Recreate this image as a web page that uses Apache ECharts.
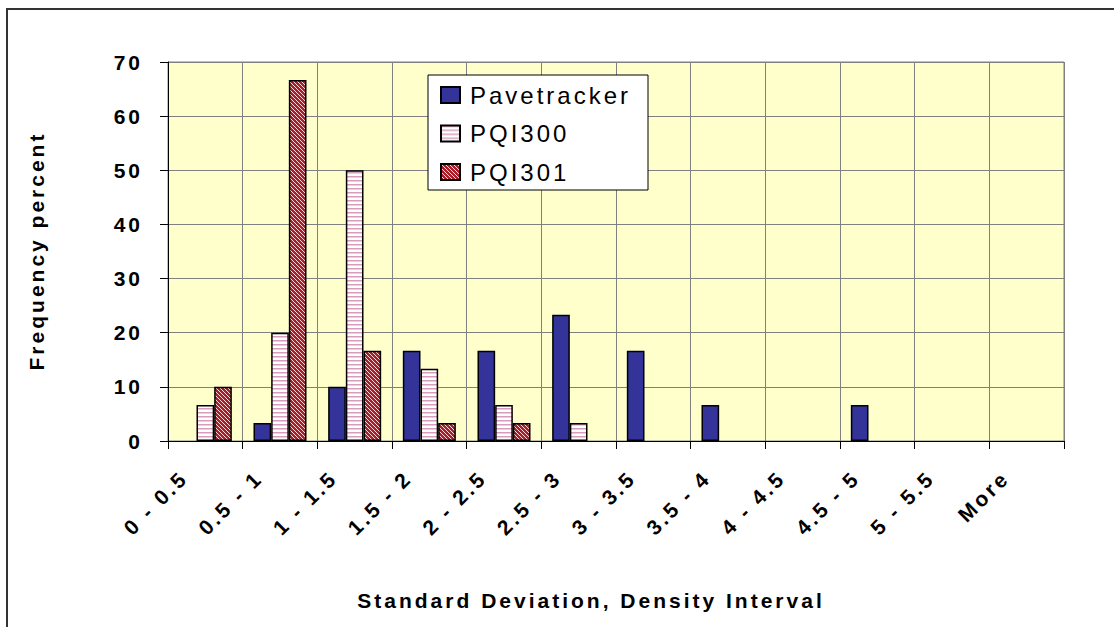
<!DOCTYPE html>
<html>
<head>
<meta charset="utf-8">
<script src="https://cdn.jsdelivr.net/npm/echarts@6/dist/echarts.min.js"></script>
<style>
  html, body { margin: 0; padding: 0; background: #fff; }
  #main { width: 1114px; height: 627px; }
  #main svg text { letter-spacing: 3px; }
</style>
</head>
<body>
<div id="main"></div>
<script>
// 数据
const categories = ['0 - 0.5', '0.5 - 1', '1 - 1.5', '1.5 - 2', '2 - 2.5', '2.5 - 3', '3 - 3.5', '3.5 - 4', '4 - 4.5', '4.5 - 5', '5 - 5.5', 'More'];
const pavetracker = [0, 3.33, 10, 16.67, 16.67, 23.33, 16.67, 6.67, 0, 6.67, 0, 0];
const pqi300 = [6.67, 20, 50, 13.33, 6.67, 3.33, 0, 0, 0, 0, 0, 0];
const pqi301 = [10, 66.67, 16.67, 3.33, 3.33, 0, 0, 0, 0, 0, 0, 0];
const yTicks = [0, 10, 20, 30, 40, 50, 60, 70];

const FONT = 'Liberation Sans, Arial, sans-serif';

//填充图案
const makePattern = (w, h, draw) => {
  const c = document.createElement('canvas');
  c.width = w; c.height = h;
  draw(c.getContext('2d'));
  return { image: c, repeat: 'repeat', imageWidth: w, imageHeight: h };
}

const stripes = makePattern(4, 4, ctx => {
  ctx.fillStyle = '#fff'; ctx.fillRect(0, 0, 4, 4);
  ctx.fillStyle = '#d59dbb'; ctx.fillRect(0, 0, 4, 1);
  ctx.fillStyle = '#ebcfdf'; ctx.fillRect(0, 1, 4, 1);
});

const hatch = makePattern(4, 4, ctx => {
  ctx.fillStyle = '#a81e2b'; ctx.fillRect(0, 0, 4, 4);
  ctx.fillStyle = '#f6dada';
  for (let y = 0; y < 4; y++) ctx.fillRect(y, y, 1, 1);
});

// 0 值不画柱子
const bars = arr => arr.map(v => (v === 0 ? '-' : v));

const chart = echarts.init(document.getElementById('main'), null, { renderer: 'svg' });

const barStyle = color => ({ color, borderColor: '#000', borderWidth: 1.5 });

const option = {
  animation: false,
  backgroundColor: '#fff',
  textStyle: { fontFamily: FONT },
  grid: {
    left: 168, top: 62, right: 50, bottom: 186,
    show: true, backgroundColor: '#ffffcc', borderColor: '#808080', borderWidth: 1
  },
  legend: {
    orient: 'vertical',
    left: 440, top: 83,
    padding: 0,
    z: 10,
    icon: 'rect',
    itemWidth: 19, itemHeight: 16, itemGap: 14.5,
    textStyle: { fontSize: 24, fontFamily: FONT, color: '#000', lineHeight: 24, padding: [0, 0, 0, 5] },
    data: ['Pavetracker', 'PQI300', 'PQI301']
  },
  xAxis: {
    type: 'category',
    data: categories,
    axisLine: { lineStyle: { color: '#000', width: 1 } },
    axisTick: { show: true, length: 8, lineStyle: { color: '#000' } },
    splitLine: { show: true, interval: 0, lineStyle: { color: '#808080', width: 1 } },
    axisLabel: {
      interval: 0, rotate: 45, margin: 12,
      padding: [0, 30, 0, 0],
      fontSize: 21, fontWeight: 'bold', color: '#000', fontFamily: FONT
    }
  },
  yAxis: {
    type: 'value',
    min: yTicks[0], max: yTicks[yTicks.length - 1], interval: 10,
    axisLine: { show: true, lineStyle: { color: '#000', width: 1 } },
    axisTick: { show: true, length: 8, lineStyle: { color: '#000' } },
    splitLine: { lineStyle: { color: '#808080', width: 1 } },
    axisLabel: { margin: 25, fontSize: 21, fontWeight: 'bold', color: '#000', fontFamily: FONT }
  },
  series: [
    { name: 'Pavetracker', type: 'bar', data: bars(pavetracker), barGap: '0%', barCategoryGap: '29%', itemStyle: barStyle('#333399') },
    { name: 'PQI300', type: 'bar', data: bars(pqi300), itemStyle: barStyle(stripes) },
    { name: 'PQI301', type: 'bar', data: bars(pqi301), itemStyle: barStyle(hatch) }
  ],
  graphic: [
    { type: 'rect', z: -10, silent: true, shape: { x: 7, y: 9, width: 1200, height: 700 }, style: { fill: 'none', stroke: '#333', lineWidth: 2 } },
    { type: 'rect', z: 5, silent: true, shape: { x: 428, y: 75, width: 220, height: 115 }, style: { fill: '#fff', stroke: '#000', lineWidth: 1 } },
    { type: 'text', silent: true, x: 36, y: 251, rotation: Math.PI / 2,
      style: { text: 'Frequency percent', fontSize: 21, fontWeight: 'bold', fontFamily: FONT, fill: '#000', align: 'center', verticalAlign: 'middle' } },
    { type: 'text', silent: true, x: 591, y: 600,
      style: { text: 'Standard Deviation, Density Interval', fontSize: 21, fontWeight: 'bold', fontFamily: FONT, fill: '#000', align: 'center', verticalAlign: 'middle' } }
  ]
};
chart.setOption(option);
</script>
</body>
</html>
